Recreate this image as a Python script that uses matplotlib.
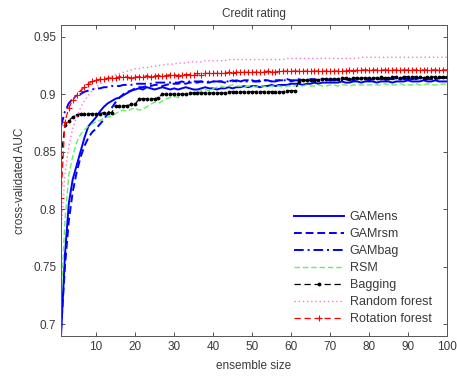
import numpy as np
import matplotlib
matplotlib.use("Agg")
import matplotlib.pyplot as plt

# Credit rating - cross-validated AUC vs ensemble size
ensemble_size = np.arange(1, 101)

gamens = [
    0.690, 0.760, 0.805, 0.826, 0.838, 0.850, 0.862, 0.872, 0.876, 0.880,
    0.885, 0.889, 0.892, 0.894, 0.896, 0.897, 0.899, 0.901, 0.903, 0.904,
    0.905, 0.904, 0.906, 0.905, 0.904, 0.905, 0.906, 0.905, 0.904, 0.905,
    0.904, 0.905, 0.906, 0.905, 0.904, 0.904, 0.905, 0.906, 0.905, 0.905,
    0.904, 0.905, 0.905, 0.906, 0.905, 0.906, 0.906, 0.907, 0.906, 0.907,
    0.907, 0.906, 0.907, 0.907, 0.908, 0.907, 0.908, 0.908, 0.908, 0.909,
    0.909, 0.909, 0.908, 0.909, 0.909, 0.910, 0.909, 0.910, 0.910, 0.910,
    0.910, 0.910, 0.911, 0.910, 0.910, 0.911, 0.911, 0.910, 0.911, 0.911,
    0.911, 0.910, 0.911, 0.911, 0.911, 0.910, 0.911, 0.911, 0.911, 0.912,
    0.911, 0.911, 0.911, 0.912, 0.911, 0.911, 0.912, 0.911, 0.911, 0.911,
]

gamrsm = [
    0.695, 0.750, 0.790, 0.815, 0.832, 0.845, 0.855, 0.862, 0.867, 0.870,
    0.874, 0.878, 0.883, 0.888, 0.893, 0.897, 0.900, 0.902, 0.903, 0.905,
    0.906, 0.906, 0.907, 0.907, 0.908, 0.908, 0.907, 0.908, 0.909, 0.909,
    0.909, 0.910, 0.909, 0.910, 0.910, 0.910, 0.911, 0.910, 0.910, 0.911,
    0.911, 0.911, 0.910, 0.911, 0.912, 0.911, 0.911, 0.912, 0.912, 0.911,
    0.911, 0.912, 0.912, 0.912, 0.911, 0.912, 0.912, 0.912, 0.913, 0.912,
    0.912, 0.913, 0.912, 0.912, 0.913, 0.913, 0.912, 0.913, 0.913, 0.913,
    0.913, 0.912, 0.913, 0.913, 0.913, 0.913, 0.914, 0.913, 0.913, 0.913,
    0.913, 0.914, 0.913, 0.913, 0.914, 0.913, 0.914, 0.914, 0.913, 0.914,
    0.914, 0.913, 0.914, 0.914, 0.914, 0.914, 0.913, 0.914, 0.914, 0.914,
]

gambag = [
    0.872, 0.885, 0.892, 0.896, 0.899, 0.900, 0.902, 0.903, 0.904, 0.905,
    0.905, 0.906, 0.906, 0.907, 0.907, 0.907, 0.908, 0.908, 0.908, 0.909,
    0.909, 0.909, 0.909, 0.909, 0.910, 0.910, 0.910, 0.910, 0.910, 0.910,
    0.910, 0.911, 0.910, 0.911, 0.911, 0.911, 0.911, 0.910, 0.911, 0.911,
    0.911, 0.911, 0.911, 0.911, 0.911, 0.912, 0.911, 0.911, 0.911, 0.912,
    0.911, 0.911, 0.912, 0.912, 0.911, 0.911, 0.912, 0.912, 0.912, 0.911,
    0.912, 0.912, 0.912, 0.912, 0.912, 0.912, 0.912, 0.913, 0.912, 0.912,
    0.912, 0.913, 0.912, 0.912, 0.913, 0.912, 0.912, 0.913, 0.913, 0.912,
    0.913, 0.913, 0.913, 0.912, 0.913, 0.913, 0.913, 0.913, 0.913, 0.913,
    0.913, 0.913, 0.914, 0.913, 0.913, 0.913, 0.914, 0.913, 0.914, 0.914,
]

rsm = [
    0.720, 0.790, 0.830, 0.846, 0.858, 0.865, 0.869, 0.872, 0.874, 0.876,
    0.877, 0.879, 0.880, 0.881, 0.883, 0.885, 0.886, 0.885, 0.887, 0.888,
    0.886, 0.887, 0.889, 0.891, 0.893, 0.892, 0.894, 0.896, 0.897, 0.898,
    0.897, 0.899, 0.900, 0.901, 0.900, 0.902, 0.903, 0.904, 0.903, 0.905,
    0.906, 0.907, 0.906, 0.907, 0.908, 0.907, 0.907, 0.906, 0.907, 0.907,
    0.906, 0.907, 0.907, 0.906, 0.907, 0.907, 0.907, 0.906, 0.907, 0.907,
    0.907, 0.907, 0.907, 0.908, 0.907, 0.907, 0.908, 0.907, 0.907, 0.908,
    0.908, 0.907, 0.908, 0.908, 0.907, 0.908, 0.908, 0.908, 0.908, 0.908,
    0.908, 0.908, 0.908, 0.909, 0.908, 0.908, 0.908, 0.909, 0.908, 0.908,
    0.908, 0.909, 0.908, 0.908, 0.909, 0.908, 0.908, 0.908, 0.909, 0.908,
]

bagging = [
    0.845, 0.873, 0.877, 0.880, 0.882, 0.883, 0.883, 0.883, 0.883, 0.883,
    0.883, 0.884, 0.884, 0.884, 0.890, 0.890, 0.890, 0.890, 0.891, 0.891,
    0.896, 0.896, 0.896, 0.896, 0.896, 0.897, 0.900, 0.900, 0.900, 0.900,
    0.900, 0.900, 0.900, 0.901, 0.901, 0.901, 0.901, 0.901, 0.901, 0.901,
    0.901, 0.901, 0.901, 0.902, 0.902, 0.902, 0.902, 0.902, 0.902, 0.902,
    0.902, 0.902, 0.902, 0.902, 0.902, 0.902, 0.902, 0.902, 0.903, 0.903,
    0.903, 0.911, 0.912, 0.912, 0.912, 0.912, 0.912, 0.913, 0.913, 0.913,
    0.913, 0.913, 0.914, 0.914, 0.913, 0.914, 0.914, 0.914, 0.914, 0.914,
    0.914, 0.914, 0.915, 0.914, 0.914, 0.915, 0.915, 0.914, 0.915, 0.915,
    0.915, 0.915, 0.915, 0.914, 0.915, 0.915, 0.915, 0.915, 0.915, 0.915,
]

random_forest = [
    0.780, 0.830, 0.855, 0.870, 0.880, 0.888, 0.894, 0.899, 0.903, 0.906,
    0.909, 0.911, 0.913, 0.915, 0.917, 0.918, 0.919, 0.920, 0.921, 0.922,
    0.922, 0.923, 0.923, 0.924, 0.924, 0.925, 0.925, 0.926, 0.926, 0.926,
    0.927, 0.927, 0.927, 0.928, 0.928, 0.928, 0.928, 0.929, 0.929, 0.929,
    0.929, 0.929, 0.929, 0.930, 0.930, 0.930, 0.930, 0.930, 0.930, 0.930,
    0.930, 0.930, 0.930, 0.930, 0.930, 0.930, 0.930, 0.930, 0.931, 0.931,
    0.931, 0.931, 0.931, 0.931, 0.931, 0.931, 0.931, 0.931, 0.931, 0.931,
    0.931, 0.931, 0.931, 0.931, 0.931, 0.931, 0.931, 0.932, 0.932, 0.932,
    0.932, 0.932, 0.932, 0.932, 0.932, 0.932, 0.932, 0.932, 0.932, 0.932,
    0.932, 0.932, 0.932, 0.932, 0.932, 0.932, 0.932, 0.932, 0.932, 0.932,
]

rotation_forest = [
    0.810, 0.876, 0.888, 0.895, 0.899, 0.903, 0.906, 0.909, 0.911, 0.912,
    0.913, 0.913, 0.914, 0.914, 0.914, 0.915, 0.915, 0.915, 0.914, 0.915,
    0.915, 0.915, 0.916, 0.915, 0.916, 0.916, 0.916, 0.916, 0.917, 0.917,
    0.916, 0.917, 0.917, 0.917, 0.917, 0.918, 0.917, 0.918, 0.918, 0.918,
    0.918, 0.918, 0.918, 0.919, 0.918, 0.919, 0.919, 0.919, 0.919, 0.919,
    0.919, 0.919, 0.919, 0.920, 0.919, 0.919, 0.920, 0.920, 0.920, 0.920,
    0.920, 0.920, 0.920, 0.920, 0.920, 0.920, 0.920, 0.920, 0.920, 0.920,
    0.920, 0.920, 0.920, 0.920, 0.921, 0.920, 0.921, 0.921, 0.921, 0.921,
    0.921, 0.921, 0.921, 0.921, 0.921, 0.921, 0.921, 0.921, 0.921, 0.921,
    0.921, 0.921, 0.921, 0.921, 0.921, 0.921, 0.921, 0.921, 0.921, 0.921,
]

x_ticks = [10, 20, 30, 40, 50, 60, 70, 80, 90, 100]
y_ticks = [0.7, 0.75, 0.8, 0.85, 0.9, 0.95]

plt.rcParams["font.family"] = ["Liberation Sans", "DejaVu Sans"]
text_color = "#3a3a3a"

fig = plt.figure(figsize=(4.57, 3.79), dpi=100)
ax = fig.add_axes([0.1335, 0.1135, 0.8445, 0.8205])

ax.plot(ensemble_size, gamens, color="#0000ff", linestyle="-", linewidth=1.4, label="GAMens")
ax.plot(ensemble_size, gamrsm, color="#0000ff", linestyle=(0, (4, 2)), linewidth=1.4, label="GAMrsm")
ax.plot(ensemble_size, gambag, color="#0000ff", linestyle=(0, (5, 2, 1, 2)), linewidth=1.4, label="GAMbag")
ax.plot(ensemble_size, rsm, color="#66ee66", linestyle=(0, (4, 2)), linewidth=1.0, label="RSM")
ax.plot(ensemble_size, bagging, color="black", linestyle=(0, (5, 3)), linewidth=0.9,
        marker=".", markersize=3.5, label="Bagging")
ax.plot(ensemble_size, random_forest, color="#ff77cc", linestyle=(0, (1, 2)), linewidth=1.0,
        label="Random forest")
ax.plot(ensemble_size, rotation_forest, color="#ff0000", linestyle=(0, (5, 3)), linewidth=0.9,
        marker="+", markersize=4, markeredgewidth=0.8, label="Rotation forest")

ax.set_xlim(1, 100)
ax.set_ylim(0.69, 0.96)
ax.set_xticks(x_ticks)
ax.set_yticks(y_ticks)
ax.set_yticklabels(["0.7", "0.75", "0.8", "0.85", "0.9", "0.95"])
ax.tick_params(direction="in", top=True, right=True, length=3, width=0.6,
               labelsize=8.5, colors=text_color)
for spine in ax.spines.values():
    spine.set_linewidth(0.7)
    spine.set_color("#555555")

ax.set_title("Credit rating", fontsize=8.5, color=text_color, pad=6)
ax.set_xlabel("ensemble size", fontsize=8.5, color=text_color, labelpad=5)
ax.set_ylabel("cross-validated AUC", fontsize=8.5, color=text_color, labelpad=5)

leg = ax.legend(loc="lower right", bbox_to_anchor=(0.98, 0.01), frameon=False, fontsize=9,
                handlelength=4.0, handletextpad=0.45, labelspacing=0.4, borderaxespad=0.2)
for t in leg.get_texts():
    t.set_color(text_color)

fig.savefig("out.png", dpi=100)
